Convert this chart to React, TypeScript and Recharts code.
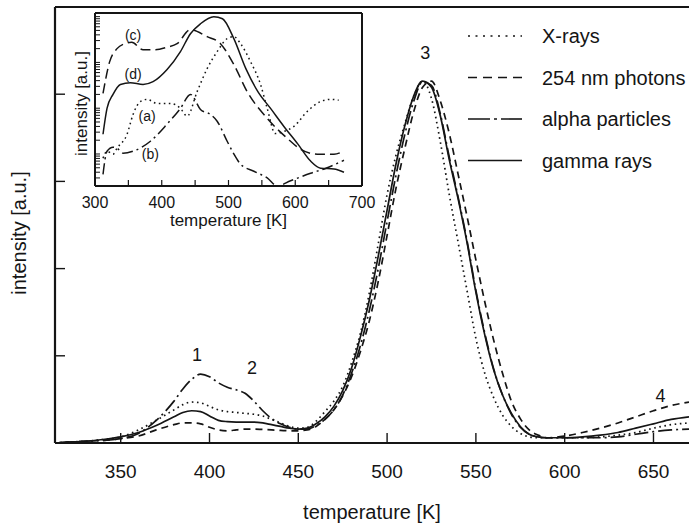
import React from "react";
import {
  Legend,
  Line,
  LineChart,
  ReferenceDot,
  ReferenceLine,
  XAxis,
  YAxis,
} from "recharts";

/* main plot: glow curves for four kinds of excitation */
const temps = [
  313, 320, 330, 340, 350, 360, 370,
  380, 385, 390, 395, 400, 405, 410, 415, 420, 425,
  430, 435, 440, 445, 450, 455, 460, 465, 470, 475,
  480, 485, 490, 495, 500, 505, 510, 515, 520, 525,
  530, 535, 540, 545, 550, 555, 560, 565, 570, 575,
  580, 585, 590,
  600, 610, 620, 630, 640, 650, 660, 670,
];
const xRays = [
  0.0, 0.01, 0.02, 0.04, 0.07, 0.15, 0.26,
  0.38, 0.44, 0.47, 0.46, 0.42, 0.38, 0.36, 0.35, 0.34, 0.33,
  0.31, 0.27, 0.23, 0.19, 0.17, 0.18, 0.25, 0.36, 0.48, 0.65,
  0.92, 1.26, 1.72, 2.28, 2.85, 3.3, 3.66, 3.98, 4.15, 3.95,
  3.45, 2.85, 2.3, 1.75, 1.2, 0.8, 0.52, 0.32, 0.19, 0.11,
  0.07, 0.06, 0.06,
  0.06, 0.06, 0.07, 0.09, 0.12, 0.17, 0.21, 0.23,
];
const uvPhotons = [
  0.0, 0.01, 0.02, 0.03, 0.05, 0.08, 0.15,
  0.21, 0.23, 0.23, 0.22, 0.18, 0.15, 0.14, 0.15, 0.16, 0.16,
  0.155, 0.15, 0.145, 0.14, 0.14, 0.15, 0.19, 0.27, 0.38, 0.54,
  0.76, 1.05, 1.4, 1.85, 2.38, 2.92, 3.38, 3.8, 4.08, 4.15,
  3.92, 3.55, 3.08, 2.6, 2.1, 1.62, 1.18, 0.8, 0.48, 0.28,
  0.15, 0.09, 0.06,
  0.08, 0.12, 0.17, 0.23, 0.3, 0.37, 0.43, 0.47,
];
const alphaParticles = [
  0.0, 0.01, 0.02, 0.03, 0.05, 0.11, 0.26,
  0.48, 0.62, 0.73, 0.79, 0.76, 0.69, 0.64, 0.61, 0.57, 0.48,
  0.37, 0.28, 0.22, 0.18, 0.16, 0.16, 0.2, 0.27, 0.38, 0.55,
  0.8, 1.12, 1.52, 2.0, 2.54, 3.07, 3.54, 3.92, 4.14, 4.1,
  3.77, 3.28, 2.82, 2.32, 1.75, 1.26, 0.85, 0.55, 0.33, 0.18,
  0.1, 0.07, 0.06,
  0.06, 0.06, 0.06, 0.07, 0.1, 0.13, 0.15, 0.16,
];
const gammaRays = [
  0.0, 0.01, 0.02, 0.04, 0.07, 0.12, 0.2,
  0.3, 0.35, 0.37, 0.36, 0.31, 0.26, 0.245, 0.24, 0.24, 0.24,
  0.23, 0.21, 0.19, 0.17, 0.16, 0.17, 0.22, 0.3, 0.42, 0.6,
  0.86, 1.22, 1.64, 2.14, 2.67, 3.2, 3.64, 3.98, 4.15, 4.08,
  3.75, 3.25, 2.8, 2.3, 1.73, 1.24, 0.84, 0.55, 0.34, 0.19,
  0.1, 0.07, 0.06,
  0.06, 0.07, 0.09, 0.12, 0.17, 0.22, 0.27, 0.3,
];

const xTicks = [350, 400, 450, 500, 550, 600, 650];
const yTicks = [0, 1, 2, 3, 4, 5];

const peakNames = ["1", "2", "3", "4"];
const peakTemps = [393, 424, 521.5, 654];
const peakHeights = [1.01, 0.87, 4.48, 0.54];

/* inset: log intensity, one trace per curve (a)-(d) */
const curveATemps = [312, 318, 327, 333, 348, 357, 368, 378, 393, 413, 428, 438, 453, 468, 483, 498, 508, 518, 533, 548, 558, 570, 583, 598, 618, 638, 653, 665];
const curveAValues = [0.81, 1.15, 0.99, 1.34, 2.7, 7.3, 14, 15.6, 12.7, 12.7, 9.9, 6.7, 23, 73, 172, 330, 365, 257, 104, 33, 9.9, 2.8, 3.1, 4.0, 8.5, 14, 15.6, 15];
const curveBTemps = [312, 318, 327, 333, 342, 357, 383, 408, 428, 443, 458, 473, 483, 498, 508, 518, 538, 558, 573, 593, 623, 646, 673];
const curveBValues = [0.36, 1.15, 1.41, 1.34, 1.04, 1.15, 1.9, 4.5, 9.9, 20, 9.4, 7.3, 5.2, 1.9, 1.0, 0.6, 0.42, 0.3, 0.2, 0.26, 0.38, 0.49, 0.73];
const curveCTemps = [312, 322, 333, 345, 355, 372, 390, 408, 423, 443, 468, 488, 508, 528, 558, 588, 608, 633, 658, 672];
const curveCValues = [21, 104, 200, 257, 274, 190, 190, 215, 257, 518, 365, 257, 90, 23, 6.0, 2.2, 1.27, 0.99, 0.99, 1.15];
const curveDTemps = [312, 318, 327, 338, 353, 372, 387, 408, 428, 443, 458, 478, 491, 508, 526, 544, 563, 583, 604, 623, 638, 658, 673];
const curveDValues = [2.7, 9.9, 20, 33, 36, 33, 38, 70, 172, 424, 698, 993, 897, 330, 73, 23, 9.9, 4.0, 1.64, 0.7, 0.49, 0.47, 0.4];

const insetXTicks = [300, 350, 400, 450, 500, 550, 600, 650, 700];
const insetYTicks = [
  0.2, 0.3, 0.4, 0.5, 0.6, 0.7, 0.8, 0.9,
  1, 2, 3, 4, 5, 6, 7, 8, 9,
  10, 20, 30, 40, 50, 60, 70, 80, 90,
  100, 200, 300, 400, 500, 600, 700, 800, 900, 1000,
];
const curveNames = ["(a)", "(b)", "(c)", "(d)"];
const curveLabelTemps = [378, 383, 357, 357];
const curveLabelHeights = [6.7, 1.0, 400, 57];

const INK = "#151515";
const FONT = "'Liberation Sans', Arial, Helvetica, sans-serif";

const SERIES = [
  { key: "xRays", name: "X-rays", dash: "1.6 3.6", legendDash: "2 5.5" },
  { key: "uvPhotons", name: "254 nm photons", dash: "7 5", legendDash: "9 6" },
  { key: "alphaParticles", name: "alpha particles", dash: "14 4 2 4", legendDash: "22 4 3 4" },
  { key: "gammaRays", name: "gamma rays", dash: undefined, legendDash: undefined },
];

const mainData = temps.map((t, i) => ({
  t,
  xRays: xRays[i],
  uvPhotons: uvPhotons[i],
  alphaParticles: alphaParticles[i],
  gammaRays: gammaRays[i],
}));

const zipCurve = (ts: number[], vs: number[]) => ts.map((t, i) => ({ t, v: vs[i] }));
const INSET_CURVES = [
  { name: "a", data: zipCurve(curveATemps, curveAValues), dash: "1.6 3.4" },
  { name: "b", data: zipCurve(curveBTemps, curveBValues), dash: "11 4 2 4" },
  { name: "c", data: zipCurve(curveCTemps, curveCValues), dash: "10 5" },
  { name: "d", data: zipCurve(curveDTemps, curveDValues), dash: undefined },
];

function LegendBox() {
  return (
    <svg width={229} height={170} style={{ fontFamily: FONT }}>
      {SERIES.map((s, i) => (
        <g key={s.key} transform={`translate(0, ${21 + i * 41.5})`}>
          <line x1={8} x2={62} y1={0} y2={0} stroke={INK} strokeWidth={1.6} strokeDasharray={s.legendDash} />
          <text x={82} y={0} dominantBaseline="central" fontSize={20} fill={INK}>
            {s.name}
          </text>
        </g>
      ))}
    </svg>
  );
}

// the main curves never reach this corner, so the inset needs no backing
function Inset() {
  return (
    <div style={{ position: "absolute", left: 66, top: 9, width: 320, height: 226 }}>
      <LineChart width={320} height={226} margin={{ top: 4, right: 24, bottom: 5, left: 0 }} style={{ fontFamily: FONT }}>
        <XAxis
          dataKey="t"
          type="number"
          domain={[300, 700]}
          allowDataOverflow
          ticks={insetXTicks}
          interval={0}
          tickFormatter={(v: number) => (v % 100 === 0 ? String(v) : "")}
          tickSize={-6}
          tickMargin={17}
          tick={{ fill: INK, fontSize: 16 }}
          axisLine={{ stroke: INK, strokeWidth: 2 }}
          tickLine={{ stroke: INK, strokeWidth: 1.2 }}
          height={44}
          label={{ value: "temperature [K]", position: "insideBottom", offset: 4, fill: INK, fontSize: 17 }}
        />
        <YAxis
          dataKey="v"
          type="number"
          scale="log"
          domain={[0.2, 1200]}
          allowDataOverflow
          ticks={insetYTicks}
          interval={0}
          tickFormatter={() => ""}
          tickSize={-5}
          axisLine={{ stroke: INK, strokeWidth: 2 }}
          tickLine={{ stroke: INK, strokeWidth: 1 }}
          width={29}
          label={{ value: "intensity [a.u.]", angle: -90, position: "center", dy: 4, fill: INK, fontSize: 17 }}
        />
        <ReferenceLine y={1200} stroke={INK} strokeWidth={2} />
        <ReferenceLine x={700} stroke={INK} strokeWidth={2} />
        {INSET_CURVES.map((c) => (
          <Line
            key={c.name}
            data={c.data}
            dataKey="v"
            type="monotone"
            stroke={INK}
            strokeWidth={1.5}
            strokeDasharray={c.dash}
            dot={false}
            isAnimationActive={false}
          />
        ))}
        {curveNames.map((n, i) => (
          <ReferenceDot
            key={n}
            x={curveLabelTemps[i]}
            y={curveLabelHeights[i]}
            r={0}
            stroke="none"
            label={{ value: n, position: "center", fill: INK, fontSize: 14 }}
          />
        ))}
      </LineChart>
    </div>
  );
}

export default function App() {
  return (
    <div style={{ position: "absolute", left: 0, top: 0, width: 689, height: 526, background: "#fff" }}>
      <LineChart
        width={689}
        height={526}
        data={mainData}
        margin={{ top: 7, right: 0, bottom: 0, left: 0 }}
        style={{ fontFamily: FONT }}
      >
        <XAxis
          dataKey="t"
          type="number"
          domain={[313, 670]}
          allowDataOverflow
          ticks={xTicks}
          interval={0}
          tickSize={-10}
          tickMargin={32}
          tick={{ fill: INK, fontSize: 19 }}
          axisLine={{ stroke: INK, strokeWidth: 2.2 }}
          tickLine={{ stroke: INK, strokeWidth: 1.4 }}
          height={83}
          label={{ value: "temperature [K]", position: "insideBottom", offset: 7, fill: INK, fontSize: 20 }}
        />
        <YAxis
          type="number"
          domain={[0, 5]}
          allowDataOverflow
          ticks={yTicks}
          interval={0}
          tickFormatter={() => ""}
          tickSize={-10}
          axisLine={{ stroke: INK, strokeWidth: 2.2 }}
          tickLine={{ stroke: INK, strokeWidth: 1.4 }}
          width={55}
          label={{ value: "intensity [a.u.]", angle: -90, position: "center", dx: -9, dy: 8, fill: INK, fontSize: 20 }}
        />
        <ReferenceLine y={5} stroke={INK} strokeWidth={2.2} />
        {SERIES.map((s) => (
          <Line
            key={s.key}
            dataKey={s.key}
            name={s.name}
            type="monotone"
            stroke={INK}
            strokeWidth={1.7}
            strokeDasharray={s.dash}
            dot={false}
            isAnimationActive={false}
          />
        ))}
        {peakNames.map((n, i) => (
          <ReferenceDot
            key={n}
            x={peakTemps[i]}
            y={peakHeights[i]}
            r={0}
            stroke="none"
            label={{ value: n, position: "center", fill: INK, fontSize: 18 }}
          />
        ))}
        <Legend
          layout="vertical"
          align="center"
          verticalAlign="middle"
          content={LegendBox}
          wrapperStyle={{ left: 460, top: 15, width: 229 }}
        />
      </LineChart>
      <Inset />
    </div>
  );
}
